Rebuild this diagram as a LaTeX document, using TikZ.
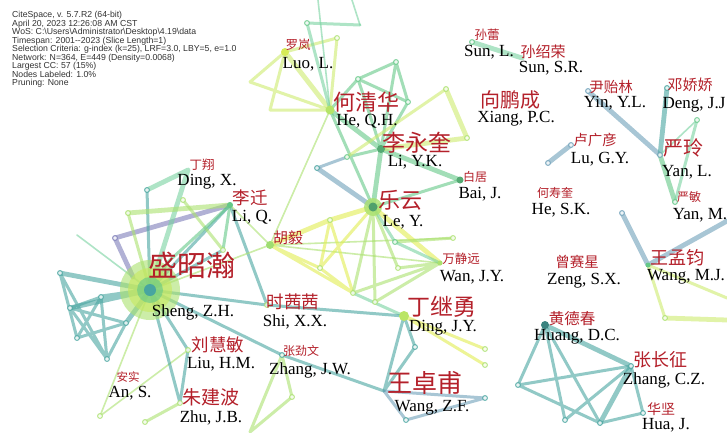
\documentclass[tikz,border=0pt]{standalone}
\usepackage{fontspec}
\setmainfont{Liberation Serif}
\newfontfamily\cjkfont{Noto Sans CJK SC}
\newfontfamily\hdrfont{Liberation Sans}
\definecolor{cTeal}{RGB}{72,165,160}
\definecolor{cSteel}{RGB}{110,160,185}
\definecolor{cLav}{RGB}{125,125,185}
\definecolor{cGreen}{RGB}{100,200,135}
\definecolor{cMint}{RGB}{120,210,160}
\definecolor{cLime}{RGB}{170,225,110}
\definecolor{cYel}{RGB}{225,238,80}
\definecolor{cPale}{RGB}{205,235,110}
\definecolor{cRed}{RGB}{180,32,42}
\newcommand{\cjksz}[1]{\cjkfont\fontsize{#1}{#1}\selectfont}
\tikzset{
 lnk/.style={line cap=round, opacity=0.6, line width=3pt},
 thk/.style={line width=4.8pt},
 thn/.style={line width=1.6pt},
 ring/.style={line width=1pt, fill=white, fill opacity=0.8, draw opacity=0.85},
 cn/.style={text=cRed, inner sep=0pt},
 en/.style={text=black, inner sep=0pt, font=\fontsize{17}{17}\selectfont},
}
\begin{document}
\begin{tikzpicture}[x=1pt,y=-1pt]
\useasboundingbox (0,0) rectangle (727,432);
\fill[white] (0,0) rectangle (727,432);
% ---------- coordinates ----------
\coordinate (SH) at (150,290);
\coordinate (P1) at (60,273); \coordinate (P2) at (101,297); \coordinate (P3) at (70,308);
\coordinate (P4) at (126,323); \coordinate (P5) at (77,338); \coordinate (P6) at (107,359);
\coordinate (PU) at (115,238); \coordinate (PU2) at (133,277); \coordinate (G0) at (77,235);
\coordinate (DX) at (188,170); \coordinate (N1) at (147,190); \coordinate (N2) at (128,213);
\coordinate (N3) at (183,200); \coordinate (N4) at (223,250); \coordinate (N5) at (168,262);
\coordinate (LQ) at (230,205);
\coordinate (SX) at (267,305); \coordinate (LH) at (188,350); \coordinate (ZB) at (180,403);
\coordinate (AN) at (100,416); \coordinate (ZJ) at (282,355);
\coordinate (Z1) at (145,422); \coordinate (Z2) at (292,397); \coordinate (Z3) at (250,432);
\coordinate (HY) at (270,245); \coordinate (LY) at (373,207);
\coordinate (A1) at (330,220); \coordinate (A2) at (320,268); \coordinate (A3) at (353,293);
\coordinate (A4) at (375,302); \coordinate (A5) at (395,242); \coordinate (A6) at (453,238);
\coordinate (A7) at (398,268); \coordinate (WJ) at (440,263);
\coordinate (R1) at (317,168); \coordinate (R2) at (347,157);
\coordinate (HQ) at (330,110); \coordinate (LL) at (285,52);
\coordinate (M1) at (358,79); \coordinate (M2) at (396,62); \coordinate (M3) at (408,102);
\coordinate (M4) at (446,89); \coordinate (M5) at (467,138);
\coordinate (K) at (381,149); \coordinate (BJ) at (460,180);
\coordinate (L1) at (250,82); \coordinate (L2) at (270,110); \coordinate (L3) at (337,38);
\coordinate (T1) at (307,23); \coordinate (T2) at (360,25); \coordinate (TP1) at (318,0); \coordinate (TP2) at (352,0);
\coordinate (SL) at (472,42); \coordinate (SR) at (522,58);
\coordinate (YL) at (588,91); \coordinate (YN) at (660,155); \coordinate (DJ) at (667,88);
\coordinate (Y1) at (697,120); \coordinate (YM) at (675,202);
\coordinate (LU1) at (548,163); \coordinate (LU2) at (571,145);
\coordinate (WM) at (648,265); \coordinate (W1) at (622,213); \coordinate (W2) at (727,221);
\coordinate (W3) at (665,318); \coordinate (W4) at (727,320); \coordinate (W5) at (727,298);
\coordinate (HD) at (545,325); \coordinate (ZC) at (631,366); \coordinate (HJ) at (643,413);
\coordinate (H1) at (518,385); \coordinate (H2) at (565,420); \coordinate (H3) at (600,423);
\coordinate (DY) at (404,316); \coordinate (D1) at (415,347); \coordinate (WZ) at (384,391);
\coordinate (D2) at (485,398); \coordinate (D3) at (406,420); \coordinate (D4) at (485,349); \coordinate (D5) at (485,365);
% ---------- edges: Sheng cluster ----------
\draw[lnk,cTeal] (P1)--(P5) (P1)--(P6) (P3)--(P2) (P3)--(P4) (P3)--(P6)
  (P5)--(P2) (P5)--(P4) (P2)--(P6) (P4)--(P6);
\draw[lnk,thk,cTeal] (P1)--(SH) (P3)--(SH) (P2)--(SH) (P4)--(SH);
\draw[lnk,thk,cLav] (PU)--(LQ) (PU)--(PU2);
\draw[lnk,thn,cMint] (G0)--(SH);
\draw[lnk,thk,cMint] (N1)--(DX) (DX)--(SH);
\draw[lnk,cTeal] (N1)--(SH) (LQ)--(SH) (N4)--(SH) (LQ)--(SX);
\draw[lnk,thk,cLime] (N2)--(LQ);
\draw[lnk,cLime] (N2)--(SH) (N3)--(N4);
\draw[lnk,cGreen] (LQ)--(N4) (LQ)--(N5) (N5)--(SH);
\draw[lnk,thn,cLime] (LQ)--(HY) (SH)--(HY) (SH)--(AN) (AN)--(LH) (HQ)--(HY) (HY)--(WJ) (HY)--(A6);
\draw[lnk,cTeal] (SH)--(SX) (SH)--(LH) (SH)--(ZB) (LH)--(ZB) (SH)--(ZJ) (ZJ)--(WZ);
\draw[lnk,cLime] (ZB)--(Z1) (ZJ)--(Z2) (Z2)--(Z3) (ZJ)--(Z3);
% ---------- Hu Yi / Le Yun ----------
\draw[lnk,thk,cYel] (HY)--(A1) (A1)--(LY) (LY)--(WJ);
\draw[lnk,cYel] (HY)--(A2) (A1)--(A2) (A1)--(A3) (A2)--(A3) (A2)--(LY) (HY)--(A3);
\draw[lnk,cLime] (A3)--(LY) (A3)--(WJ) (A4)--(LY) (A4)--(WJ) (LY)--(A7) (A7)--(WJ) (A5)--(A6);
\draw[lnk,cMint] (LY)--(A5) (A5)--(WJ) (A3)--(DY);
\draw[lnk,thk,cSteel] (R1)--(LY);
\draw[lnk,cSteel] (R1)--(R2);
% ---------- He cluster ----------
\draw[lnk,thk,cGreen] (K)--(LY) (HQ)--(K) (K)--(BJ);
\draw[lnk,cGreen] (R2)--(K) (HQ)--(LY) (HQ)--(M1) (M1)--(M2) (M1)--(M3) (M2)--(M3)
  (M2)--(K) (M1)--(K) (M3)--(K) (LY)--(BJ);
\draw[lnk,thk,cPale] (M4)--(M5) (M5)--(K);
\draw[lnk,cPale] (M4)--(R2);
\draw[lnk,cPale] (LL)--(L1) (L1)--(HQ) (LL)--(L2) (L2)--(HQ) (LL)--(L3) (L3)--(HQ);
\draw[lnk,thk,cPale] (LL)--(HQ);
\draw[lnk,cMint] (T1)--(HQ) (T1)--(T2);
\draw[lnk,thn,cMint] (HQ)--(TP1) (T2)--(TP2);
% ---------- right ----------
\draw[lnk,thk,cMint] (SL)--(SR);
\draw[lnk,thk,cSteel] (YL)--(YN) (LU1)--(LU2) (W1)--(WM) (WM)--(W2);
\draw[lnk,thk,cTeal] (DJ)--(YN);
\draw[lnk,thk,cGreen] (YN)--(YM);
\draw[lnk,cMint] (Y1)--(YM);
\draw[lnk,thn,cMint] (Y1)--(YN);
\draw[lnk,cPale] (WM)--(W3) (WM)--(W5);
\draw[lnk,thk,cPale] (W3)--(W4);
% ---------- Huang ----------
\draw[lnk,thk,cTeal] (HD)--(ZC) (ZC)--(H3);
\draw[lnk,cTeal] (HD)--(H1) (HD)--(H2) (HD)--(H3) (H1)--(ZC) (H1)--(H3) (ZC)--(HJ) (H3)--(HJ) (ZC)--(H2);
% ---------- Ding ----------
\draw[lnk,cTeal] (DY)--(WZ) (DY)--(D1) (D1)--(WZ) (SX)--(DY);
\draw[lnk,cSteel] (WZ)--(D2) (WZ)--(D3) (D3)--(D2);
\draw[lnk,cYel] (DY)--(D4) (DY)--(D5);
% ---------- ring nodes ----------
\foreach \p in {P1,P2,P3,P4,P5,P6,N1,H1,H2,H3,HJ,ZC,D1,D2,D3,ZJ,DJ,R1}
  \draw[ring,draw=cTeal] (\p) circle (2.4pt);
\foreach \p in {PU}
  \draw[ring,draw=cLav] (\p) circle (2.4pt);
\foreach \p in {N2,N3,N4,Z1,Z2,A1,A2,A3,A4,A6,A7,M4,M5,L3,W3,D4,D5,SX,AN,ZB,LH}
  \draw[ring,draw=cLime] (\p) circle (2.4pt);
\foreach \p in {M1,M2,M3,R2,T1,SL,Y1,YM,A5}
  \draw[ring,draw=cGreen] (\p) circle (2.4pt);
\foreach \p in {YL,LU1,LU2,W1,YN}
  \draw[ring,draw=cSteel] (\p) circle (2.4pt);
% ---------- solid nodes ----------
\fill[cLime,opacity=0.6] (SH) circle (30pt);
\fill[cYel!55!cLime,opacity=0.6] (SH) circle (22pt);
\fill[cGreen,opacity=0.6] (SH) circle (13pt);
\fill[cTeal] (SH) circle (6pt);
\fill[cLime,opacity=0.8] (LY) circle (9pt);
\fill[cGreen!80!black] (LY) circle (4.5pt);
\fill[cYel!80!cLime] (LL) circle (4pt);
\fill[cLime!80!cYel] (HQ) circle (4.5pt);
\fill[cGreen!85!black] (K) circle (4pt);
\fill[cGreen!85!black] (BJ) circle (3.5pt);
\fill[cLime!85!cGreen] (HY) circle (4pt);
\fill[cGreen] (LQ) circle (3pt);
\fill[cLime!70!cYel] (DY) circle (5pt);
\fill[cTeal!80!black] (HD) circle (4pt);
\fill[cGreen] (WM) circle (2.5pt);
\fill[cLime] (WJ) circle (2.5pt);
% ---------- header ----------
\node[anchor=north west, align=left, inner sep=0pt, text=black!80,
  font=\hdrfont\fontsize{8.7}{8.5}\selectfont] (hdr) at (12,11)
  {CiteSpace, v. 5.7.R2 (64-bit)\\
   April 20, 2023 12:26:08 AM CST\\
   WoS: C:\textbackslash Users\textbackslash Administrator\textbackslash Desktop\textbackslash 4.19\textbackslash data\\
   Timespan: 2001--2023 (Slice Length=1)\\
   Selection Criteria: g-index (k=25), LRF=3.0, LBY=5, e=1.0\\
   Network: N=364, E=449 (Density=0.0068)\\
   Largest CC: 57 (15\%)\\
   Nodes Labeled: 1.0\%\\
   Pruning: None};
% ---------- Chinese labels ----------
\node[cn,font=\cjksz{12.5}] (cLL) at (298,45) {罗岚};
\node[cn,font=\cjksz{22}] (cHQ) at (366,102) {何清华};
\node[cn,font=\cjksz{23}] (cK) at (417,143) {李永奎};
\node[cn,font=\cjksz{12}] (cBJ) at (475,177) {白居};
\node[cn,font=\cjksz{22}] (cLY) at (400,200) {乐云};
\node[cn,font=\cjksz{12.5}] (cSL) at (487,35) {孙蕾};
\node[cn,font=\cjksz{15}] (cSR) at (543,52) {孙绍荣};
\node[cn,font=\cjksz{20}] (cXP) at (510,100) {向鹏成};
\node[cn,font=\cjksz{14.5}] (cYL) at (611,87) {尹贻林};
\node[cn,font=\cjksz{15}] (cDJ) at (690,85) {邓娇娇};
\node[cn,font=\cjksz{14.5}] (cLU) at (595,140) {卢广彦};
\node[cn,font=\cjksz{20}] (cYN) at (683,148) {严玲};
\node[cn,font=\cjksz{12}] (cHS) at (555,193) {何寿奎};
\node[cn,font=\cjksz{12}] (cYM) at (689,197) {严敏};
\node[cn,font=\cjksz{18}] (cWM) at (677,258) {王孟钧};
\node[cn,font=\cjksz{14.5}] (cZS) at (577,262) {曾赛星};
\node[cn,font=\cjksz{12.5}] (cWJ) at (461,259) {万静远};
\node[cn,font=\cjksz{23}] (cDY) at (442,307) {丁继勇};
\node[cn,font=\cjksz{15.5}] (cHD) at (572,319) {黄德春};
\node[cn,font=\cjksz{18}] (cZC) at (660,360) {张长征};
\node[cn,font=\cjksz{25}] (cWZ) at (425,383) {王卓甫};
\node[cn,font=\cjksz{14}] (cHJ) at (661,409) {华坚};
\node[cn,font=\cjksz{15}] (cHY) at (288,238) {胡毅};
\node[cn,font=\cjksz{17.5}] (cLQ) at (250,198) {李迁};
\node[cn,font=\cjksz{12.5}] (cDX) at (202,165) {丁翔};
\node[cn,font=\cjksz{29}] (cSH) at (192,265) {盛昭瀚};
\node[cn,font=\cjksz{17.5}] (cSX) at (293,302) {时茜茜};
\node[cn,font=\cjksz{17.5}] (cLH) at (218,345) {刘慧敏};
\node[cn,font=\cjksz{12}] (cZJ) at (301,351) {张劲文};
\node[cn,font=\cjksz{11.5}] (cAN) at (128,377) {安实};
\node[cn,font=\cjksz{19}] (cZB) at (211,397) {朱建波};
% ---------- English labels ----------
\node[en] (eLL) at (308,64) {Luo, L.};
\node[en] (eHQ) at (367,121) {He, Q.H.};
\node[en] (eK) at (415,162) {Li, Y.K.};
\node[en] (eBJ) at (480,194) {Bai, J.};
\node[en] (eLY) at (403,222) {Le, Y.};
\node[en] (eSL) at (489,52) {Sun, L.};
\node[en] (eSR) at (551,68) {Sun, S.R.};
\node[en] (eXP) at (516,119) {Xiang, P.C.};
\node[en] (eYL) at (615,103) {Yin, Y.L.};
\node[en] (eDJ) at (694,105) {Deng, J.J};
\node[en] (eLU) at (600,159) {Lu, G.Y.};
\node[en] (eYN) at (687,172) {Yan, L.};
\node[en] (eHS) at (561,210) {He, S.K.};
\node[en] (eYM) at (700,215) {Yan, M.};
\node[en] (eWM) at (686,277) {Wang, M.J.};
\node[en] (eZS) at (584,281) {Zeng, S.X.};
\node[en] (eWJ) at (472,277) {Wan, J.Y.};
\node[en] (eDY) at (443,328) {Ding, J.Y.};
\node[en] (eHD) at (577,337) {Huang, D.C.};
\node[en] (eZC) at (664,380) {Zhang, C.Z.};
\node[en] (eWZ) at (432,408) {Wang, Z.F.};
\node[en] (eHJ) at (666,425) {Hua, J.};
\node[en] (eLQ) at (252,217) {Li, Q.};
\node[en] (eDX) at (207,182) {Ding, X.};
\node[en] (eSH) at (193,312) {Sheng, Z.H.};
\node[en] (eSX) at (295,322) {Shi, X.X.};
\node[en] (eLH) at (221,364) {Liu, H.M.};
\node[en] (eZJ) at (310,370) {Zhang, J.W.};
\node[en] (eAN) at (130,393) {An, S.};
\node[en] (eZB) at (211,418) {Zhu, J.B.};
\end{tikzpicture}
\end{document}
